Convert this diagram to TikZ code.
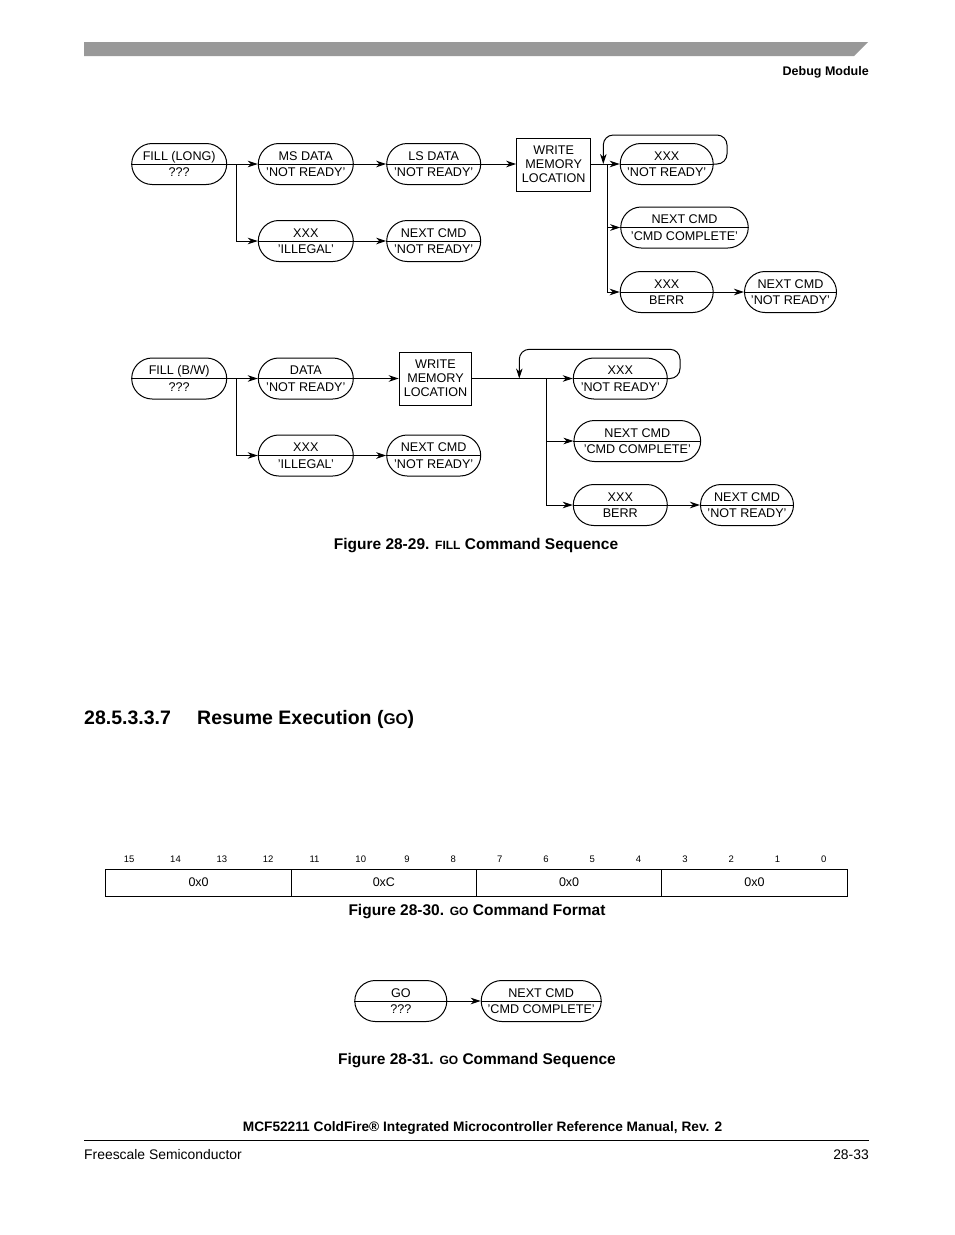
\documentclass[tikz,border=0pt]{standalone}
\usepackage{fontspec}
\setmainfont{Liberation Sans}
\usetikzlibrary{arrows.meta}
\newcommand\fsz[1]{\fontsize{#1}{#1}\selectfont}
\definecolor{barg}{rgb}{0.6,0.6,0.6}
\tikzset{
  cmd/.style={draw, line width=1pt, rounded corners=20.5pt, minimum height=41pt, inner sep=0pt},
  txt/.style={inner sep=0pt, font=\fsz{12.6}, text height=9pt, text depth=0pt},
  wbox/.style={draw, line width=1pt, align=center, inner sep=0pt, font=\fontsize{12.6}{14}\selectfont},
  arr/.style={line width=1pt, -{Stealth[length=10pt,width=6.5pt,inset=3pt]}},
  ln/.style={line width=1pt},
  cell/.style={draw, line width=1pt, minimum width=185.25pt, minimum height=27pt, inner sep=0pt, font=\fsz{12.5}},
  bitn/.style={anchor=base, inner sep=0pt, font=\fsz{9.5}},
  capt/.style={anchor=base, inner sep=0pt, font=\fsz{15.5}\bfseries},
}
\newcommand\cmdn[5]{%
  \node[cmd, minimum width=#3pt] (#1) at (#2) {};
  \draw[ln] (#1.west) -- (#1.east);
  \node[txt] (#1t) at ([yshift=8.5pt]#1.center) {#4};
  \node[txt] (#1b) at ([yshift=-8pt]#1.center) {#5};
}
\begin{document}
\begin{tikzpicture}[x=1pt,y=-1pt]
\useasboundingbox (0,0) rectangle (954,1235);
\fill[white] (0,0) rectangle (954,1235);

% header
\fill[barg] (84,42) -- (868,42) -- (854,56) -- (84,56) -- cycle;
\node[anchor=base east, inner sep=0pt, font=\fsz{12.5}\bfseries] (hdr) at (869,75.5) {Debug Module};

% ---------- Figure 28-29 top ----------
\cmdn{fl}{179.2,164}{95}{FILL (LONG)}{???}
\cmdn{ms}{305.8,164}{95}{MS DATA}{'NOT READY'}
\cmdn{ls}{433.7,164}{94}{LS DATA}{'NOT READY'}
\node[wbox, minimum width=74pt, minimum height=53pt] (wm1) at (553.7,164.5) {WRITE\\MEMORY\\LOCATION};
\cmdn{xa}{666.7,164}{93}{XXX}{'NOT READY'}
\cmdn{nca}{684.5,227.5}{127.5}{NEXT CMD}{'CMD COMPLETE'}
\cmdn{xb}{666.7,292}{93}{XXX}{BERR}
\cmdn{nnb}{790.5,292}{92}{NEXT CMD}{'NOT READY'}
\cmdn{il}{305.8,241}{95}{XXX}{'ILLEGAL'}
\cmdn{nni}{433.7,241}{94}{NEXT CMD}{'NOT READY'}

\coordinate (j1) at (236.7,164);
\coordinate (j2) at (607.3,164);
\coordinate (l1) at (603.3,164);
\draw[arr] (fl.east) -- (ms.west);
\draw[arr] (j1) |- (il.west);
\draw[arr] (ms.east) -- (ls.west);
\draw[arr] (ls.east) -- (wm1.west |- ls.east);
\draw[arr] (il.east) -- (nni.west);
\draw[arr] (wm1.east |- xa.west) -- (xa.west);
\draw[arr] (j2) |- (nca.west);
\draw[arr] (j2) |- (xb.west);
\draw[arr] (xb.east) -- (nnb.west);
\draw[arr, rounded corners=10pt] (xa.east) -- (727,164) -- (727,135) -- (603.3,135) -- (l1);

% ---------- Figure 28-29 bottom ----------
\cmdn{fb}{179.2,378.5}{95}{FILL (B/W)}{???}
\cmdn{da}{305.8,378.5}{95}{DATA}{'NOT READY'}
\node[wbox, minimum width=72.5pt, minimum height=52.7pt] (wm2) at (435.5,378.7) {WRITE\\MEMORY\\LOCATION};
\cmdn{xc}{620.3,378.5}{94}{XXX}{'NOT READY'}
\cmdn{ncc}{637.3,441}{126.7}{NEXT CMD}{'CMD COMPLETE'}
\cmdn{xd}{620.3,505}{94}{XXX}{BERR}
\cmdn{nnd}{747,505}{93}{NEXT CMD}{'NOT READY'}
\cmdn{il2}{305.8,455.5}{95}{XXX}{'ILLEGAL'}
\cmdn{nni2}{433.7,455.5}{94}{NEXT CMD}{'NOT READY'}

\coordinate (j3) at (236.7,378.5);
\coordinate (j4) at (546.7,378.5);
\coordinate (l2) at (519.3,378.5);
\draw[arr] (fb.east) -- (da.west);
\draw[arr] (j3) |- (il2.west);
\draw[arr] (da.east) -- (wm2.west |- da.east);
\draw[arr] (il2.east) -- (nni2.west);
\draw[arr] (wm2.east |- xc.west) -- (xc.west);
\draw[arr] (j4) |- (ncc.west);
\draw[arr] (j4) |- (xd.west);
\draw[arr] (xd.east) -- (nnd.west);
\draw[arr, rounded corners=10pt] (xc.east) -- (680,378.5) -- (680,349.3) -- (519.3,349.3) -- (l2);

\node[capt] (cap1) at (476,549.5) {Figure 28-29. {\fsz{12}FILL} Command Sequence};

% ---------- heading ----------
\node[anchor=base west, inner sep=0pt, font=\fsz{19.5}\bfseries] (hnum) at (84,724) {28.5.3.3.7};
\node[anchor=base west, inner sep=0pt, font=\fsz{19.5}\bfseries] (htit) at (197,724) {Resume Execution ({\fsz{15.5}GO})};

% ---------- Figure 28-30 ----------
\foreach \i in {0,...,15}{
  \pgfmathtruncatemacro\bn{15-\i}
  \node[bitn] (b\bn) at ({129.2+46.31*\i},862) {\bn};
}
\node[cell] (c1) at (198.6,882.5) {0x0};
\node[cell] (c2) at (383.9,882.5) {0xC};
\node[cell] (c3) at (569.1,882.5) {0x0};
\node[cell] (c4) at (754.4,882.5) {0x0};
\node[capt] (cap2) at (477,915.5) {Figure 28-30. {\fsz{12}GO} Command Format};

% ---------- Figure 28-31 ----------
\cmdn{go}{400.8,1001}{92}{GO}{???}
\cmdn{ncg}{541.2,1001}{120}{NEXT CMD}{'CMD COMPLETE'}
\draw[arr] (go.east) -- (ncg.west);
\node[capt] (cap3) at (477,1064.5) {Figure 28-31. {\fsz{12}GO} Command Sequence};

% ---------- footer ----------
\node[anchor=base, inner sep=0pt, font=\fsz{13.7}\bfseries] (ftit) at (482.5,1131) {MCF52211 ColdFire\textregistered{} Integrated Microcontroller Reference Manual, Rev. 2};
\draw[line width=1pt] (84,1140) -- (869,1140);
\node[anchor=base west, inner sep=0pt, font=\fsz{13.9}] (fl1) at (84,1159) {Freescale Semiconductor};
\node[anchor=base east, inner sep=0pt, font=\fsz{13.9}] (fr1) at (869,1159) {28-33};
\end{tikzpicture}
\end{document}
